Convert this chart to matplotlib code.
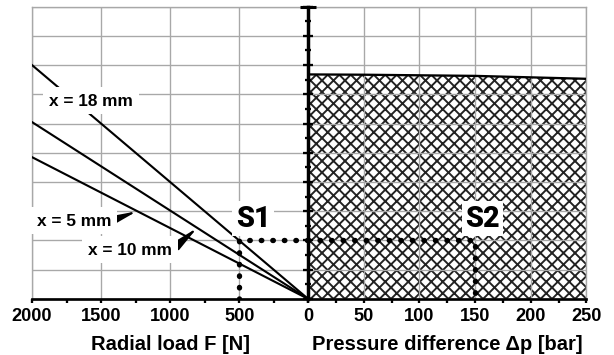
import matplotlib
matplotlib.use("Agg")
import matplotlib.pyplot as plt
from matplotlib.ticker import MultipleLocator

# left diagram: radial load F [N]
load = [2000, 0]
line_18mm = [8.0, 0.0]
line_10mm = [6.05, 0.0]
line_5mm = [4.85, 0.0]

# right diagram: limit over pressure difference
pressure = [0, 50, 100, 150, 200, 250]
limit = [7.68, 7.67, 7.65, 7.63, 7.58, 7.53]

# working points S1 / S2
s1_load = 500
s2_pressure = 150
s_level = 2.0

load_ticks = [2000, 1500, 1000, 500]
pressure_ticks = [0, 50, 100, 150, 200, 250]

plt.rcParams['font.family'] = ['Liberation Sans', 'DejaVu Sans']
plt.rcParams['font.weight'] = 'bold'
plt.rcParams['hatch.linewidth'] = 1.0

DPI = 138
fig = plt.figure(figsize=(614.4 / DPI, 355.4 / DPI), dpi=DPI)
axl = fig.add_axes([32 / 614, 1 - 299 / 355, 276 / 614, 292 / 355])
axr = fig.add_axes([308 / 614, 1 - 299 / 355, 278 / 614, 292 / 355])

gridc = '#a8a8a8'
for ax in (axl, axr):
    ax.set_ylim(0, 10)
    ax.set_yticks(range(11))
    ax.grid(True, color=gridc, lw=0.7)
    ax.spines['top'].set_color(gridc)
    ax.spines['top'].set_linewidth(0.7)
    ax.spines['bottom'].set_linewidth(1.4)
    ax.tick_params(axis='x', which='major', direction='out', length=2.2,
                   width=1.2, pad=2.5, labelsize=9.5)
    ax.tick_params(axis='x', which='minor', direction='out', length=2.0,
                   width=1.2)

axl.set_xlim(2000, 0)
axl.set_xticks(load_ticks)
axl.xaxis.set_minor_locator(MultipleLocator(250))
axl.spines['right'].set_visible(False)
axl.spines['left'].set_color(gridc)
axl.spines['left'].set_linewidth(0.7)
axl.tick_params(axis='y', length=0, labelleft=False)

axr.set_xlim(0, 250)
axr.set_xticks(pressure_ticks)
axr.xaxis.set_minor_locator(MultipleLocator(25))
axr.spines['right'].set_color(gridc)
axr.spines['right'].set_linewidth(0.7)
axr.spines['left'].set_linewidth(1.8)
axr.spines['left'].set_zorder(6)
axr.yaxis.set_minor_locator(MultipleLocator(0.5))
axr.tick_params(axis='y', which='major', direction='inout', length=5,
                width=1.2, labelleft=False)
axr.tick_params(axis='y', which='minor', direction='inout', length=3.5,
                width=1.2)
axr.plot([0], [10], marker='_', ms=8, mew=1.6, color='k', clip_on=False, zorder=7)

# load lines
for ys in (line_18mm, line_10mm, line_5mm):
    axl.plot(load, ys, color='k', lw=1.1, zorder=3)

box = dict(fc='white', ec='none', boxstyle='square,pad=0.35')
axl.text(1572, 6.78, 'x = 18 mm', ha='center', va='center', fontsize=9,
         bbox=box, zorder=5)
arrow = dict(arrowstyle='-|>,head_length=1.3,head_width=0.22', color='k',
             lw=1.0, shrinkA=0, shrinkB=0, relpos=(1, 0.5))
axl.annotate('x = 5 mm', xy=(1240, 3.0), xytext=(1428, 2.67), ha='right',
             va='center', fontsize=9, bbox=box, arrowprops=arrow, zorder=5)
axl.annotate('x = 10 mm', xy=(804, 2.43), xytext=(986, 1.68), ha='right',
             va='center', fontsize=9, bbox=box, arrowprops=arrow, zorder=5)

# permissible region
axr.fill_between(pressure, 0, limit, facecolor='white', edgecolor='#222222',
                 hatch='xxxx', linewidth=0, zorder=1)
axr.plot(pressure, limit, color='k', lw=1.2, zorder=3)

# working point construction
dots = dict(color='k', lw=2.8, linestyle=(0, (0.1, 2.05)),
            dash_capstyle='round', zorder=4)
axl.plot([s1_load, s1_load, 0], [0, s_level, s_level], **dots)
axr.plot([0, s2_pressure, s2_pressure], [s_level, s_level, 0], **dots)

sbox = dict(fc='white', ec='none', boxstyle='square,pad=0.12')
sfont = ['Roboto', 'DejaVu Sans']
axl.text(399, 2.74, 'S1', ha='center', va='center', fontsize=15,
         family=sfont, weight='heavy', bbox=sbox, zorder=5)
axr.text(156.5, 2.74, 'S2', ha='center', va='center', fontsize=15,
         family=sfont, weight='heavy', bbox=sbox, zorder=5)

axl.set_xlabel('Radial load F [N]', fontsize=10.5, fontweight='bold', labelpad=5)
axr.set_xlabel('Pressure difference \u0394p [bar]', fontsize=10.5,
               fontweight='bold', labelpad=5)

fig.savefig('out.png', dpi=DPI)
